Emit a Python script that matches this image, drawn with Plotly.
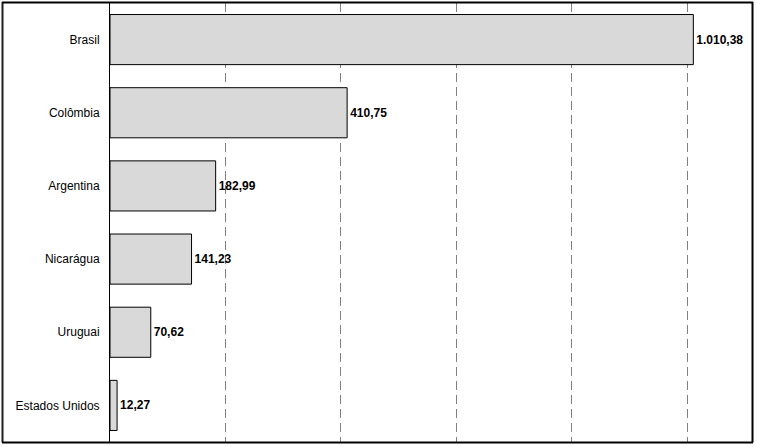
import plotly.graph_objects as go

categories = ["Brasil", "Colômbia", "Argentina", "Nicarágua", "Uruguai", "Estados Unidos"]
values = [1010.38, 410.75, 182.99, 141.23, 70.62, 12.27]
value_labels = ["1.010,38", "410,75", "182,99", "141,23", "70,62", "12,27"]

W, H = 757, 447
ML, MR, MT, MB = 110, 5, 3, 5
PW, PH = W - ML - MR, H - MT - MB

fig = go.Figure(go.Bar(
    y=categories, x=values, orientation="h",
    text=value_labels, textposition="outside", cliponaxis=False,
    textfont=dict(family="Liberation Sans, Arial", size=12, color="black", weight="bold"),
    marker=dict(color="#d9d9d9", line=dict(color="black", width=1)),
    width=0.685,
))

def px_x(p):
    return (p - ML) / PW

def px_y(p):
    return (H - MB - p) / PH

frame = dict(color="black", width=2)
shapes = [
    dict(type="line", xref="paper", yref="paper", x0=px_x(2.5), x1=px_x(2.5),
         y0=px_y(442.5), y1=px_y(2), line=dict(color="#1e1e1e", width=2), layer="above"),
    dict(type="line", xref="paper", yref="paper", x0=px_x(752.5), x1=px_x(752.5),
         y0=px_y(442.5), y1=px_y(2), line=frame, layer="above"),
    dict(type="line", xref="paper", yref="paper", x0=px_x(2), x1=px_x(753),
         y0=px_y(2.5), y1=px_y(2.5), line=frame, layer="above"),
    dict(type="line", xref="paper", yref="paper", x0=px_x(2), x1=px_x(753),
         y0=px_y(442.5), y1=px_y(442.5), line=frame, layer="above"),
]
fig.update_layout(
    width=W, height=H,
    margin=dict(l=ML, r=MR, t=MT, b=MB),
    paper_bgcolor="white", plot_bgcolor="white",
    showlegend=False,
    font=dict(family="Liberation Sans, Arial", size=12, color="black"),
    xaxis=dict(range=[0, 1112], tickvals=[200, 400, 600, 800, 1000],
               showticklabels=False, showgrid=True, gridcolor="#808080",
               griddash="9px,5px", gridwidth=1, zeroline=False, showline=False,
               ticks="", fixedrange=True),
    yaxis=dict(autorange="reversed", showline=True, linecolor="black", linewidth=1,
               ticks="", ticklabelstandoff=7, showgrid=False, fixedrange=True,
               tickfont=dict(family="Liberation Sans, Arial", size=12, color="black")),
    shapes=shapes,
)

fig.write_html("out.html", config={"displayModeBar": False},
               post_script="document.body.style.margin='0';")
